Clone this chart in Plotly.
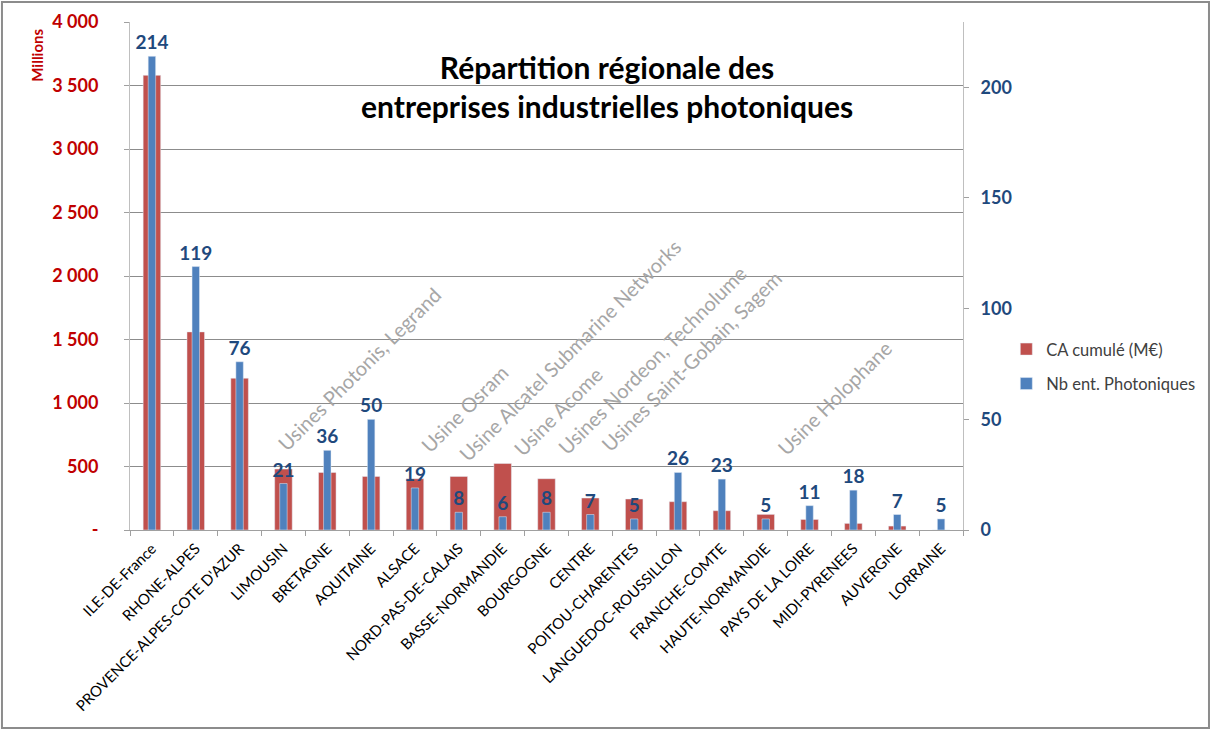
import plotly.graph_objects as go

regions = ["ILE-DE-France", "RHONE-ALPES", "PROVENCE-ALPES-COTE D'AZUR", "LIMOUSIN", "BRETAGNE",
           "AQUITAINE", "ALSACE", "NORD-PAS-DE-CALAIS", "BASSE-NORMANDIE", "BOURGOGNE", "CENTRE",
           "POITOU-CHARENTES", "LANGUEDOC-ROUSSILLON", "FRANCHE-COMTE", "HAUTE-NORMANDIE",
           "PAYS DE LA LOIRE", "MIDI-PYRENEES", "AUVERGNE", "LORRAINE"]
ca_cumule = [3580, 1560, 1195, 480, 453, 422, 404, 422, 524, 404, 252, 244, 223, 152, 123, 83, 52, 31, 0]
nb_ent = [214, 119, 76, 21, 36, 50, 19, 8, 6, 8, 7, 5, 26, 23, 5, 11, 18, 7, 5]

left_ticks = [0, 500, 1000, 1500, 2000, 2500, 3000, 3500, 4000]
left_ticktext = ["-", "500", "1 000", "1 500", "2 000", "2 500", "3 000", "3 500", "4 000"]
right_ticks = [0, 50, 100, 150, 200]

usines_text = ["Usines Photonis, Legrand", "Usine Osram", "Usine Alcatel Submarine Networks",
               "Usine Acome", "Usines Nordeon, Technolume", "Usines Saint-Gobain, Sagem",
               "Usine Holophane"]
usines_x = [4.72, 7.14, 9.53, 9.26, 11.4, 12.3, 15.56]
usines_y = [1270, 960, 1420, 940, 1340, 1330, 1040]

FONT = "Lato"
RED = "#C0504D"
BLUE = "#4F81BD"
DARKBLUE = "#1F497D"

fig = go.Figure()
fig.add_trace(go.Bar(x=regions, y=ca_cumule, name="CA cumulé (M€)", marker_color=RED,
                     width=0.4, yaxis="y", legendgroup="a"))
fig.add_trace(go.Bar(x=regions, y=nb_ent, name="Nb ent. Photoniques", marker_color=BLUE,
                     width=0.17, yaxis="y2", text=nb_ent, texttemplate="%{y}",
                     textposition="outside", cliponaxis=False, constraintext="none",
                     legendgroup="b",
                     textfont=dict(family=FONT, size=19, color=DARKBLUE, weight="bold")))

for t, x, y in zip(usines_text, usines_x, usines_y):
    fig.add_annotation(x=x, y=y, xref="x", yref="y", text=t, textangle=-45, showarrow=False,
                       font=dict(family=FONT, size=20, color="#A6A6A6"),
                       xanchor="center", yanchor="middle")

fig.add_annotation(x=0.5726, y=0.874, xref="paper", yref="paper",
                   text="Répartition régionale des<br>entreprises industrielles photoniques",
                   showarrow=False, font=dict(family=FONT, size=30, color="#000000", weight="bold"),
                   xanchor="center", yanchor="middle", align="center")

fig.add_annotation(x=-0.112, y=0.935, xref="paper", yref="paper", text="Millions", textangle=-90,
                   showarrow=False, font=dict(family=FONT, size=15, color="#C00000", weight="bold"),
                   xanchor="center", yanchor="middle")

# outer border
fig.add_shape(type="rect", xref="paper", yref="paper", x0=-0.1537, x1=1.2953, y0=-0.3898, y1=1.0394,
              line=dict(color="#8C8C8C", width=2), fillcolor="rgba(0,0,0,0)", layer="below")

fig.update_layout(
    width=1212, height=731,
    margin=dict(l=130, r=249, t=22, b=201, autoexpand=False),
    paper_bgcolor="white", plot_bgcolor="white",
    barmode="overlay",
    font=dict(family=FONT),
    showlegend=True,
    legend=dict(x=1.052, y=0.39, xanchor="left", yanchor="top",
                font=dict(family=FONT, size=16.5, color="#404040"),
                bgcolor="rgba(0,0,0,0)", tracegroupgap=10, itemwidth=30),
    xaxis=dict(type="category", tickangle=-45, tickfont=dict(family=FONT, size=15, color="#000000"),
               showline=True, linecolor="#A0A0A0", linewidth=1, ticks="outside", tickson="boundaries",
               ticklen=5, tickcolor="#A0A0A0", showgrid=False, range=[-0.5, 18.5],
               ticklabelstandoff=3, automargin=False),
    yaxis=dict(range=[0, 4000], tickvals=left_ticks, ticktext=left_ticktext,
               tickfont=dict(family=FONT, size=18, color="#C00000", weight="bold"),
               showgrid=True, gridcolor="#8C8C8C", gridwidth=1, showline=True, linecolor="#BFBFBF",
               ticks="outside", ticklen=5, tickcolor="#A0A0A0", zeroline=False,
               ticklabelstandoff=22, automargin=False),
    yaxis2=dict(range=[0, 229.5], tickvals=right_ticks, overlaying="y", side="right",
                tickfont=dict(family=FONT, size=18, color=DARKBLUE, weight="bold"),
                showgrid=False, showline=True, linecolor="#BFBFBF", ticks="outside", ticklen=5,
                tickcolor="#A0A0A0", zeroline=False, ticklabelstandoff=8, automargin=False),
)

fig.write_html("out.html", config={"displayModeBar": False},
               post_script="document.body.style.margin='0';document.body.style.padding='0';")
